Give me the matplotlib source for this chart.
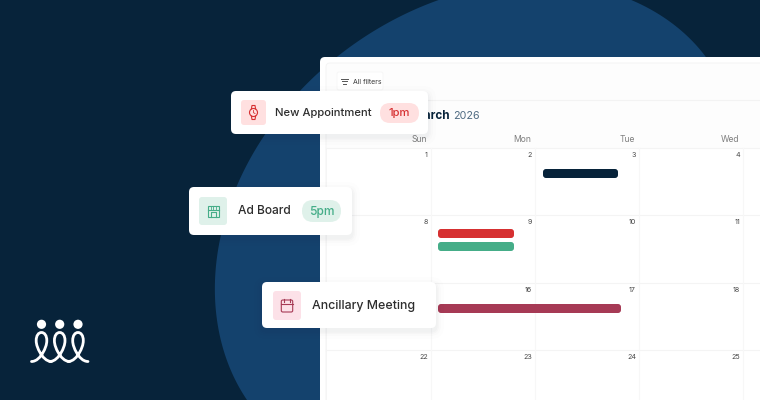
import matplotlib
matplotlib.use("Agg")
import matplotlib.pyplot as plt
from matplotlib.patches import FancyBboxPatch, Circle, PathPatch, Rectangle, Polygon
from matplotlib.path import Path
import numpy as np

FONT = "Inter"
NAVY = "#07233A"; BLUE = "#14426D"
week_days = ["Sun", "Mon", "Tue", "Wed"]
day_rows = [["1", "2", "3", "4"], ["8", "9", "10", "11"], ["", "16", "17", "18"], ["22", "23", "24", "25"]]
col_lines = [431, 535, 639, 743]
row_lines = [148.3, 215.3, 283.3, 350.3]
events = [(543, 618, 169, 178, NAVY), (438, 514, 229, 238, "#D63031"),
          (438, 514, 242, 251, "#45AD88"), (438, 621, 304, 313, "#A63A55")]
edge_y = [400, 350, 320, 280, 236, 186, 134, 90, 57, 0, 0, 28, 57]
edge_x = [247, 225, 217.5, 213.5, 218, 235, 268, 307, 340, 420, 628, 673, 709]
blob_cx, blob_cy = 524, 280

fig = plt.figure(figsize=(7.6, 4), dpi=100, facecolor=NAVY)
ax = fig.add_axes([0, 0, 1, 1])
ax.set_xlim(0, 760); ax.set_ylim(400, 0); ax.axis("off")

def rbox(x0, y0, x1, y1, r, fc, ec="none", lw=0, z=1, alpha=None):
    p = FancyBboxPatch((x0 + r, y0 + r), x1 - x0 - 2 * r, y1 - y0 - 2 * r,
                       boxstyle=f"round,pad={r},rounding_size={r}", fc=fc, ec=ec, lw=lw, zorder=z, alpha=alpha)
    ax.add_patch(p); return p

def txt(x, y, s, size, color, ha="left", weight="normal", z=12):
    return ax.text(x, y, s, fontsize=size, color=color, ha=ha, va="center", family=FONT, weight=weight, zorder=z)

# backdrop shape: smooth radial curve through the edge
ex, ey = np.array(edge_x) - blob_cx, blob_cy - np.array(edge_y)
phi, rad = np.arctan2(ey, -ex), np.hypot(ex, ey)
coef = np.polyfit(phi, rad, 4)
ph = np.linspace(phi.min() - 0.05, phi.max() + 0.1, 300)
rr = np.polyval(coef, ph)
pts = list(zip(blob_cx - rr * np.cos(ph), blob_cy - rr * np.sin(ph))) + [(700, 410)]
ax.add_patch(Polygon(pts, closed=True, fc=BLUE, ec="none", zorder=1))

# panel
rbox(320, 57, 790, 430, 5, "white", z=2)
rbox(326, 63, 790, 430, 4, "#FDFDFD", ec="#F3F3F3", lw=0.6, z=2)
ax.add_patch(Rectangle((326, 148), 440, 260, fc="white", ec="none", zorder=2))
ax.plot([326, 760], [99.5, 99.5], color="#F3F3F3", lw=0.8, zorder=3)
ax.plot([326, 326], [148, 400], color="#F5F5F5", lw=0.7, zorder=3)
for y in row_lines:
    ax.plot([326, 760], [y, y], color="#F4F4F4", lw=0.8, zorder=3)
for x in col_lines:
    ax.plot([x, x], [148, 400], color="#F7F7F7", lw=0.8, zorder=3)

# filter button
rbox(337, 72, 383, 90, 2, "white", ec="#F6F6F6", lw=0.6, z=3)
for x0, x1, y in [(341, 348, 78.8), (342.2, 346.8, 81.3), (343.4, 345.6, 83.8)]:
    ax.plot([x0, x1], [y, y], color="#555", lw=0.7, zorder=4)
txt(353, 81.6, "All filters", 5, "#3A3A3A")

# month title
txt(453, 116, "2026", 7.7, "#4F6B82")
txt(450, 116, "March", 8.4, NAVY, ha="right", weight="bold", z=4)

# weekdays
for x, d in zip(col_lines, week_days):
    txt(x - 4, 140, d, 6.2, "#808080", ha="right", z=4)
for row, y in zip(day_rows, row_lines):
    for x, d in zip(col_lines, row):
        txt(x - 3, y + 6.9, d, 5.1, "#454545", ha="right", z=4)

# events
for x0, x1, y0, y1, c in events:
    rbox(x0, y0, x1, y1, 3, c, z=5)

def card(x0, y0, x1, y1):
    for i, a in zip([8, 5, 3, 1.5], [0.008, 0.012, 0.015, 0.02]):
        rbox(x0 - i, y0 - i + 3, x1 + i, y1 + i + 3, 5 + i, "#1a2a3a", z=6, alpha=a)
    rbox(x0, y0, x1, y1, 5, "white", z=7)

# card 1
card(231, 91, 428, 134)
rbox(241, 100, 266, 125, 3, "#FFE0E0", z=8)
ax.add_patch(Circle((253.5, 112.5), 4, fc="none", ec="#D63031", lw=0.8, zorder=9))
ax.plot([251.4, 252, 255, 255.6], [108.9, 105.5, 105.5, 108.9], color="#D63031", lw=0.8, zorder=9)
ax.plot([251.4, 252, 255, 255.6], [116.1, 119.5, 119.5, 116.1], color="#D63031", lw=0.8, zorder=9)
ax.plot([253.5, 253.5, 255], [110.5, 112.7, 113.5], color="#D63031", lw=0.6, zorder=9)
txt(275.3, 113.4, "New Appointment", 8.1, "#2D2D2D", weight="medium")
rbox(380, 103, 419, 123, 10, "#FFE0E0", z=8)
txt(399.5, 113.4, "1pm", 8.1, "#D63031", ha="center", weight="medium")

# card 2
card(189, 187, 352, 235)
rbox(199, 197, 227, 225, 3, "#DFF1EA", z=8)
G = "#45AD88"
ax.add_patch(Rectangle((208, 205.5), 10.5, 11, fc="none", ec=G, lw=0.8, zorder=9))
ax.plot([208, 218.5], [209.5, 209.5], color=G, lw=0.8, zorder=9)
ax.plot([211, 211, 215.5, 215.5], [216.5, 212, 212, 216.5], color=G, lw=0.8, zorder=9)
for x in (210.5, 213.2, 216):
    ax.plot([x, x], [205.5, 209.5], color=G, lw=0.6, zorder=9)
txt(238, 211.5, "Ad Board", 8.6, "#2D2D2D", weight="medium")
rbox(302, 200, 341, 222, 11, "#DFF1EA", z=8)
txt(321.5, 211.5, "5pm", 8.6, G, ha="center", weight="medium")

# card 3
card(262, 282, 436, 328)
rbox(273, 291, 301, 320, 3, "#FCE1E8", z=8)
M = "#A63A55"
rbox(281.3, 300, 292.7, 312, 1.5, "none", ec=M, lw=0.8, z=9)
ax.plot([281.3, 292.7], [304, 304], color=M, lw=0.8, zorder=9)
for x in (284, 290):
    ax.plot([x, x], [298.5, 301.5], color=M, lw=0.8, zorder=9)
txt(312, 305.5, "Ancillary Meeting", 8.9, "#2D2D2D", weight="medium")

# logo
for cx in (41.5, 59.7, 78):
    ax.add_patch(Circle((cx, 324.3), 4.6, fc="white", ec="none", zorder=3))
    verts = [(cx - 10, 361.5),
             (cx - 5, 361.5), (cx - 1, 357), (cx + 1.5, 352.5),
             (cx + 3.5, 349), (cx + 5.3, 345), (cx + 5.3, 340.5),
             (cx + 5.3, 335.5), (cx + 3, 332.5), (cx, 332.5),
             (cx - 3, 332.5), (cx - 5.3, 335.5), (cx - 5.3, 340.5),
             (cx - 5.3, 345), (cx - 3.5, 349), (cx - 1.5, 352.5),
             (cx + 1, 357), (cx + 5, 361.5), (cx + 10, 361.5)]
    codes = [Path.MOVETO] + [Path.CURVE4] * 18
    ax.add_patch(PathPatch(Path(verts, codes), fc="none", ec="white", lw=2.0, capstyle="round", zorder=3))

fig.savefig("out.png", dpi=100, facecolor=NAVY)
